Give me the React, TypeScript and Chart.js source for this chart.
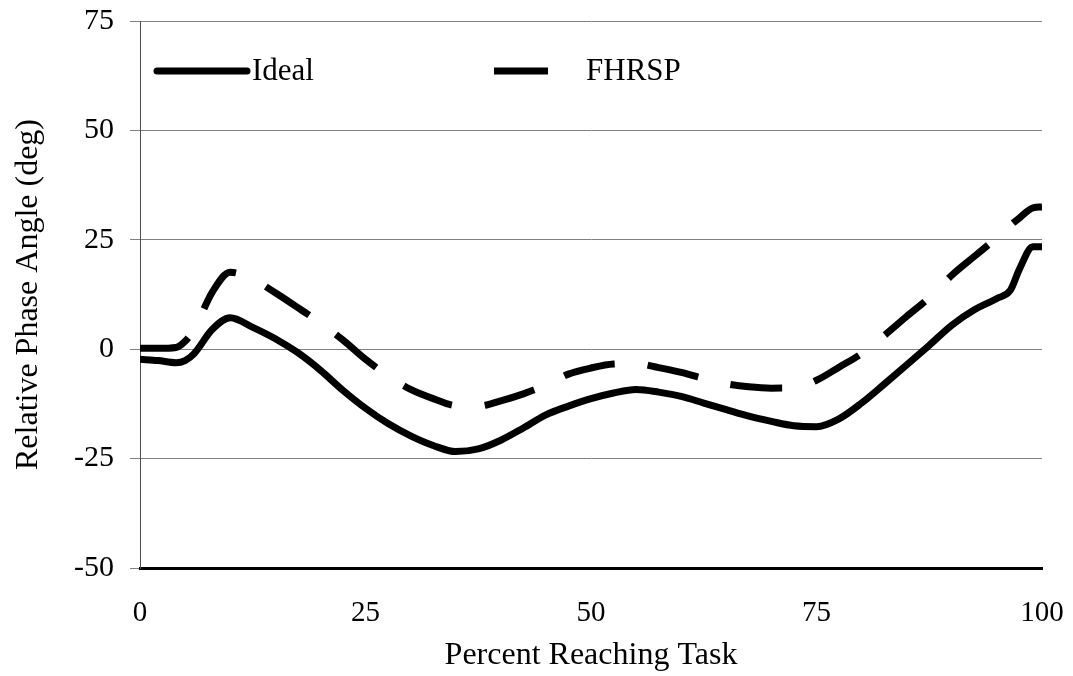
import React, { useEffect, useRef } from "react";
import { Chart, registerables } from "chart.js";

Chart.register(...registerables);

const percent = [0, 2, 4, 5, 6, 8, 10, 12.5, 15, 17.5, 20, 22.5, 25, 27.5, 30, 32.5, 35, 37.5, 40, 42.5, 45, 47.5, 50, 52.5, 55, 57.5, 60, 62.5, 65, 67.5, 70, 72.5, 75, 77.5, 80, 82.5, 85, 87.5, 90, 92.5, 95, 96.5, 97.5, 99, 100];

const ideal = [-2.3, -2.6, -3.1, -2.6, -1.0, 4.5, 7.2, 5.0, 2.4, -0.8, -4.8, -9.4, -13.5, -17.0, -19.8, -22.0, -23.4, -22.8, -20.8, -18.0, -15.0, -13.0, -11.3, -10.0, -9.2, -9.8, -10.8, -12.3, -13.8, -15.3, -16.5, -17.5, -17.7, -15.9, -12.3, -8.0, -3.6, 0.9, 5.5, 9.0, 11.6, 13.5, 18.3, 23.4, 23.4];

const fhrsp = [0.2, 0.2, 0.4, 1.8, 4.5, 13.0, 17.6, 16.0, 12.9, 9.5, 6.0, 2.1, -2.3, -6.1, -9.2, -11.3, -12.9, -13.0, -11.8, -10.2, -8.2, -5.7, -4.3, -3.4, -3.3, -4.2, -5.3, -6.7, -7.9, -8.6, -8.9, -8.8, -7.1, -4.1, -1.0, 3.1, 7.5, 11.8, 16.9, 21.2, 25.5, 28.3, 30.0, 32.3, 32.5];

const seriesNames = ["Ideal", "FHRSP"];
const yTicks = [-50, -25, 0, 25, 50, 75];
const xTicks = [0, 25, 50, 75, 100];

const FONT = "'Liberation Serif', 'Times New Roman', serif";

const legendPlugin = {
  id: "insideLegend",
  afterDraw(chart: any) {
    const { ctx, chartArea } = chart;
    const y = chartArea.top + 50;
    ctx.save();
    ctx.strokeStyle = "#000";
    ctx.lineWidth = 7;
    ctx.lineCap = "round";
    ctx.beginPath();
    ctx.moveTo(chartArea.left + 17, y);
    ctx.lineTo(chartArea.left + 107, y);
    ctx.stroke();
    ctx.lineCap = "butt";
    ctx.beginPath();
    ctx.moveTo(chartArea.left + 354, y);
    ctx.lineTo(chartArea.left + 408, y);
    ctx.stroke();
    ctx.fillStyle = "#000";
    ctx.font = `31px ${FONT}`;
    ctx.textBaseline = "middle";
    ctx.textAlign = "left";
    ctx.fillText(seriesNames[0], chartArea.left + 112, y + 1);
    ctx.fillText(seriesNames[1], chartArea.left + 446, y + 1);
    ctx.restore();
  },
};

export default function App() {
  const ref = useRef<HTMLCanvasElement>(null);
  useEffect(() => {
    document.body.style.margin = "0";
    const canvas = ref.current!;
    const chart = new Chart(canvas, {
      type: "line",
      data: {
        labels: percent,
        datasets: [
          {
            label: seriesNames[0],
            data: percent.map((x, i) => ({ x, y: ideal[i] })),
            borderColor: "#000",
            borderWidth: 7,
            borderCapStyle: "round",
            borderJoinStyle: "round",
            pointRadius: 0,
            cubicInterpolationMode: "monotone",
            fill: false,
          },
          {
            label: seriesNames[1],
            data: percent.map((x, i) => ({ x, y: fhrsp[i] })),
            borderColor: "#000",
            borderWidth: 7,
            borderDash: [52, 33],
            borderCapStyle: "butt",
            borderJoinStyle: "round",
            pointRadius: 0,
            cubicInterpolationMode: "monotone",
            fill: false,
          },
        ],
      },
      options: {
        responsive: false,
        animation: false,
        layout: { padding: { top: 21, right: 31, left: 0, bottom: 0 } },
        plugins: {
          legend: { display: false },
          tooltip: { enabled: false },
        },
        scales: {
          x: {
            type: "linear",
            min: 0,
            max: 100,
            afterBuildTicks: (scale: any) => {
              scale.ticks = xTicks.map((v) => ({ value: v }));
            },
            afterFit: (scale: any) => {
              scale.height = 108;
              scale.paddingLeft = 0;
              scale.paddingRight = 0;
            },
            grid: { display: false, drawTicks: false },
            border: { display: true, color: "#000", width: 3 },
            ticks: {
              color: "#000",
              font: { family: FONT, size: 29 },
              padding: 28,
              maxRotation: 0,
            },
            title: {
              display: true,
              text: "Percent Reaching Task",
              color: "#000",
              font: { family: FONT, size: 32 },
              padding: { top: 4, bottom: 1 },
            },
          },
          y: {
            type: "linear",
            min: -50,
            max: 75,
            afterBuildTicks: (scale: any) => {
              scale.ticks = yTicks.map((v) => ({ value: v }));
            },
            afterFit: (scale: any) => {
              scale.width = 140;
              scale.paddingTop = 0;
              scale.paddingBottom = 0;
            },
            grid: {
              color: "#808080",
              lineWidth: 1,
              tickLength: 10,
              tickColor: "#808080",
            },
            border: { display: true, color: "#505050", width: 1 },
            ticks: {
              color: "#000",
              font: { family: FONT, size: 30 },
              padding: 16,
            },
            title: {
              display: true,
              text: "Relative Phase Angle (deg)",
              color: "#000",
              font: { family: FONT, size: 32 },
              padding: { top: 9, bottom: 4 },
            },
          },
        },
      } as any,
      plugins: [legendPlugin],
    });
    return () => chart.destroy();
  }, []);
  return (
    <div style={{ width: 1073, height: 676 }}>
      <canvas ref={ref} width={1073} height={676} style={{ display: "block" }} />
    </div>
  );
}
